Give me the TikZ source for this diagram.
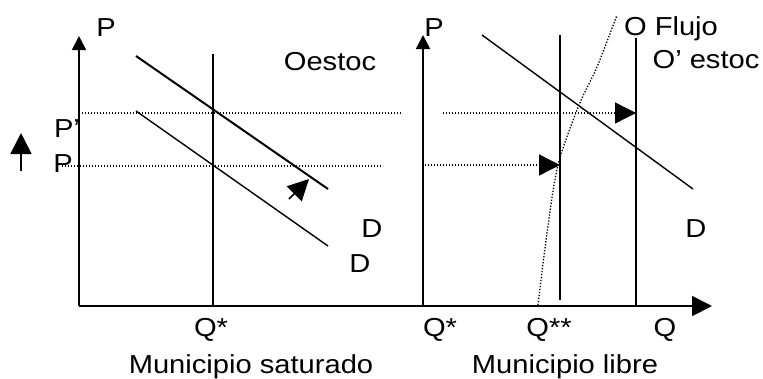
\documentclass[tikz,border=0pt]{standalone}
\usepackage{fontspec}
\setmainfont{Liberation Sans}[FakeStretch=1.12]
\usetikzlibrary{arrows.meta}
\begin{document}
\begin{tikzpicture}[x=1pt,y=-1pt,
  lbl/.style={inner sep=0pt, anchor=base, font=\fontsize{26}{30}\selectfont},
  axisline/.style={line width=1.8pt},
  curve/.style={line width=1.4pt},
  thickcurve/.style={line width=2pt},
  dotline/.style={line width=1.3pt, dash pattern=on 1.3pt off 1.7pt},
  bigtip/.style={-{Triangle[length=#1,width=#1]}},
]
\useasboundingbox (0,0) rectangle (763,378);
% left panel coordinates
\coordinate (Lo) at (79,306);
\coordinate (Ly) at (79,36);
\coordinate (Xe) at (712,306);
\coordinate (Ro) at (423,306);
\coordinate (Ry) at (423,35);
\coordinate (QsT) at (213,54);
\coordinate (QsB) at (213,306);
\coordinate (D1a) at (136,56);
\coordinate (D1b) at (328,189);
\coordinate (D2a) at (136,111);
\coordinate (D2b) at (328,246);
\coordinate (Ppa) at (82,113);
\coordinate (Ppb) at (402,113);
\coordinate (Pa) at (62,166);
\coordinate (Pb) at (383,166);
\coordinate (UAb) at (21,171);
\coordinate (UAt) at (21,133);
\coordinate (SAb) at (289,199);
\coordinate (SAt) at (309,179);
% right panel coordinates
\coordinate (RPpa) at (443,113);
\coordinate (RPpb) at (636,113);
\coordinate (RPa) at (425,165);
\coordinate (RPb) at (560,165);
\coordinate (QqT) at (560,35);
\coordinate (QqB) at (560,300);
\coordinate (OT) at (636,38);
\coordinate (OB) at (636,305);
\coordinate (RDa) at (482,35);
\coordinate (RDb) at (693,189);

% axes
\draw[axisline, bigtip=14pt] (Lo) -- (Ly);
\draw[axisline, bigtip=20pt] (Lo) -- (Xe);
\draw[axisline, bigtip=14pt] (Ro) -- (Ry);

% left panel
\draw[curve] (QsT) -- (QsB);
\draw[thickcurve] (D1a) -- (D1b);
\draw[curve] (D2a) -- (D2b);
\draw[dotline] (Ppa) -- (Ppb);
\draw[dotline] (Pa) -- (Pb);
\draw[line width=1.6pt, bigtip=21pt] (UAb) -- (UAt);
\draw[line width=1.6pt, bigtip=21pt] (SAb) -- (SAt);

% right panel
\draw[dotline, bigtip=21pt] (RPpa) -- (RPpb);
\draw[dotline, bigtip=21pt] (RPa) -- (RPb);
\draw[curve] (QqT) -- (QqB);
\draw[thickcurve] (OT) -- (OB);
\draw[curve] (RDa) -- (RDb);
\draw[dotline] plot[smooth] coordinates {(538,305) (547,233) (558,165) (579,105) (597,67) (617,15)};

% labels
\node[lbl] (pL) at (106,36) {P};
\node[lbl] (oest) at (330,70) {Oestoc};
\node[lbl] (pprime) at (67,137) {P’};
\node[lbl] (pbase) at (63,172) {P};
\node[lbl] (d1) at (372,237) {D};
\node[lbl] (d2) at (360,272) {D};
\node[lbl] (qsL) at (211,336) {Q*};
\node[lbl] (msat) at (251,373) {Municipio saturado};
\node[lbl] (pR) at (434,36) {P};
\node[lbl] (oflujo) at (671,35) {O Flujo};
\node[lbl] (oestoc) at (706,68) {O’ estoc};
\node[lbl] (dR) at (696,237) {D};
\node[lbl] (qsR) at (440,336) {Q*};
\node[lbl] (qss) at (549,336) {Q**};
\node[lbl] (qR) at (665,336) {Q};
\node[lbl] (mlib) at (565,373) {Municipio libre};
\end{tikzpicture}
\end{document}
